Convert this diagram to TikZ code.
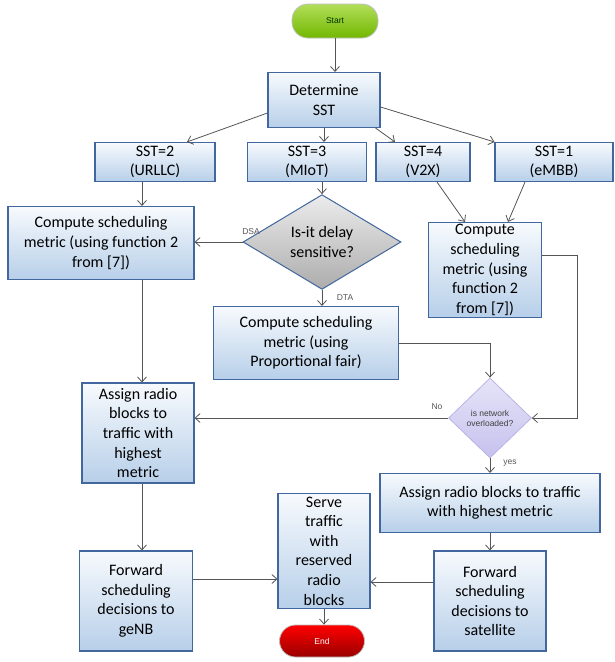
\documentclass[tikz,border=0pt]{standalone}
\usepackage{fontspec}
\setmainfont{Carlito}
\newfontfamily\lblfont{Liberation Sans}
\usetikzlibrary{shapes.geometric,arrows.meta}
\definecolor{boxline}{HTML}{41679E}
\definecolor{boxtop}{HTML}{F7FAFD}
\definecolor{boxbot}{HTML}{B7CFE9}
\definecolor{edgegray}{HTML}{555555}
\definecolor{overtop}{HTML}{E6E4F8}
\definecolor{overbot}{HTML}{C6C1EE}
\definecolor{overline}{HTML}{B9B3E3}
\definecolor{starttop}{HTML}{B2DE5A}
\definecolor{startbot}{HTML}{72B800}
\begin{document}
\begin{tikzpicture}[x=1pt,y=-1pt]
\tikzstyle{every node}=[font=\fontsize{16}{19.6}\selectfont,align=center,inner sep=0pt]
\tikzstyle{box}=[draw=boxline,line width=1.1pt,top color=boxtop,bottom color=boxbot]
\tikzstyle{arr}=[draw=edgegray,line width=0.8pt,-{Straight Barb[length=5pt,width=9pt]}]
\tikzstyle{lbl}=[font=\lblfont\fontsize{8.5}{9}\selectfont,text=edgegray]
\useasboundingbox (0,0) rectangle (615,662);
% start and first split
\node (start) at (335,21) [draw=gray!50,line width=0.8pt,rounded corners=16pt,top color=starttop,bottom color=startbot,minimum width=86pt,minimum height=34pt,font=\lblfont\fontsize{8.5}{9}\selectfont,text=green!20!black] {Start};
\node (det) at (324,100) [box,minimum width=112pt,minimum height=55pt] {Determine\\SST};
\node (sst2) at (155,162) [box,minimum width=120pt,minimum height=39pt] {SST=2\\(URLLC)};
\node (sst3) at (307,162) [box,minimum width=119pt,minimum height=39pt] {SST=3\\(MIoT)};
\node (sst4) at (423,162) [box,minimum width=94pt,minimum height=39pt] {SST=4\\(V2X)};
\node (sst1) at (554,162) [box,minimum width=118pt,minimum height=39pt] {SST=1\\(eMBB)};
% metrics
\node (cmpl) at (101,243) [box,minimum width=186pt,minimum height=73pt] {Compute scheduling\\metric (using function 2\\from [7])};
\node (isit) at (322,242) [diamond,draw=boxline,line width=1pt,top color=gray!15,bottom color=gray!65,minimum width=158pt,minimum height=94pt] {Is-it delay\\sensitive?};
\node (prop) at (306,343) [box,minimum width=185pt,minimum height=73pt] {Compute scheduling\\metric (using\\Proportional fair)};
\node (cmpr) at (485,270) [box,minimum width=113pt,minimum height=95pt] {Compute\\scheduling\\metric (using\\function 2\\from [7])};
\node (over) at (490,418) [diamond,draw=overline,line width=0.8pt,top color=overtop,bottom color=overbot,minimum width=83pt,minimum height=80pt,font=\lblfont\fontsize{8.5}{10}\selectfont,text=black!75] {is network\\overloaded?};
% assignment and forwarding
\node (asgl) at (138,433) [box,minimum width=112pt,minimum height=100pt] {Assign radio\\blocks to\\traffic with\\highest\\metric};
\node (asgr) at (490,503) [box,minimum width=220pt,minimum height=59pt] {Assign radio blocks to traffic\\with highest metric};
\node (fwdl) at (136,601) [box,minimum width=113pt,minimum height=100pt] {Forward\\scheduling\\decisions to\\geNB};
\node (fwdr) at (490,601) [box,minimum width=112pt,minimum height=100pt] {Forward\\scheduling\\decisions to\\satellite};
\node (serve) at (324,551) [box,minimum width=92pt,minimum height=115pt] {Serve\\traffic\\with\\reserved\\radio\\blocks};
\node (end) at (322,641) [draw=gray!50,line width=0.8pt,rounded corners=16pt,top color=red,bottom color=red!60!black,minimum width=85pt,minimum height=32pt,font=\lblfont\fontsize{8.5}{9}\selectfont,text=white] {End};
% connectors
\draw [arr] (start) -- (start |- det.north);
\draw [arr] ([yshift=-13pt]det.west) -- ([xshift=32pt]sst2.north);
\draw [arr] (det.south) -- (det.south |- sst3.north);
\draw [arr] ([xshift=-5pt]det.south east) -- ([xshift=-28pt]sst4.north);
\draw [arr] ([yshift=-7pt]det.east) -- (sst1.north west);
\draw [arr] ([xshift=-13pt]sst2.south) -- ([xshift=-13pt]sst2.south |- cmpl.north);
\draw [arr] (isit.north |- sst3.south) -- (isit.north);
\draw [arr] ([xshift=14pt]sst4.south) -- ([xshift=-20pt]cmpr.north);
\draw [arr] ([xshift=-29pt]sst1.south) -- ([xshift=23pt]cmpr.north);
\draw [arr] (isit.west) -- (isit.west -| cmpl.east);
\node (dsa) at (251,232) [lbl] {DSA};
\draw [arr] (isit.south) -- (isit.south |- prop.north);
\node (dta) at (345,298) [lbl] {DTA};
\draw [arr] (prop.east) -| (over.north);
\draw [arr] ([yshift=15pt]cmpr.east) -- ++(35,0) |- (over.east);
\draw [arr] (over.west) -- (over.west -| asgl.east);
\node (no) at (437,407) [lbl] {No};
\draw [arr] (over.south) -- (over.south |- asgr.north);
\node (yes) at (510,463) [lbl] {yes};
\draw [arr] ([xshift=4pt]asgl.north |- cmpl.south) -- ([xshift=4pt]asgl.north);
\draw [arr] ([xshift=4pt]asgl.south) -- ([xshift=4pt]asgl.south |- fwdl.north);
\draw [arr] (asgr.south) -- (asgr.south |- fwdr.north);
\draw [arr] ([yshift=22pt]fwdl.east) -- ([yshift=22pt]fwdl.east -| serve.west);
\draw [arr] ([yshift=19pt]fwdr.west) -- ([yshift=19pt]fwdr.west -| serve.east);
\draw [arr] (serve.south) -- (serve.south |- end.north);
\end{tikzpicture}
\end{document}
